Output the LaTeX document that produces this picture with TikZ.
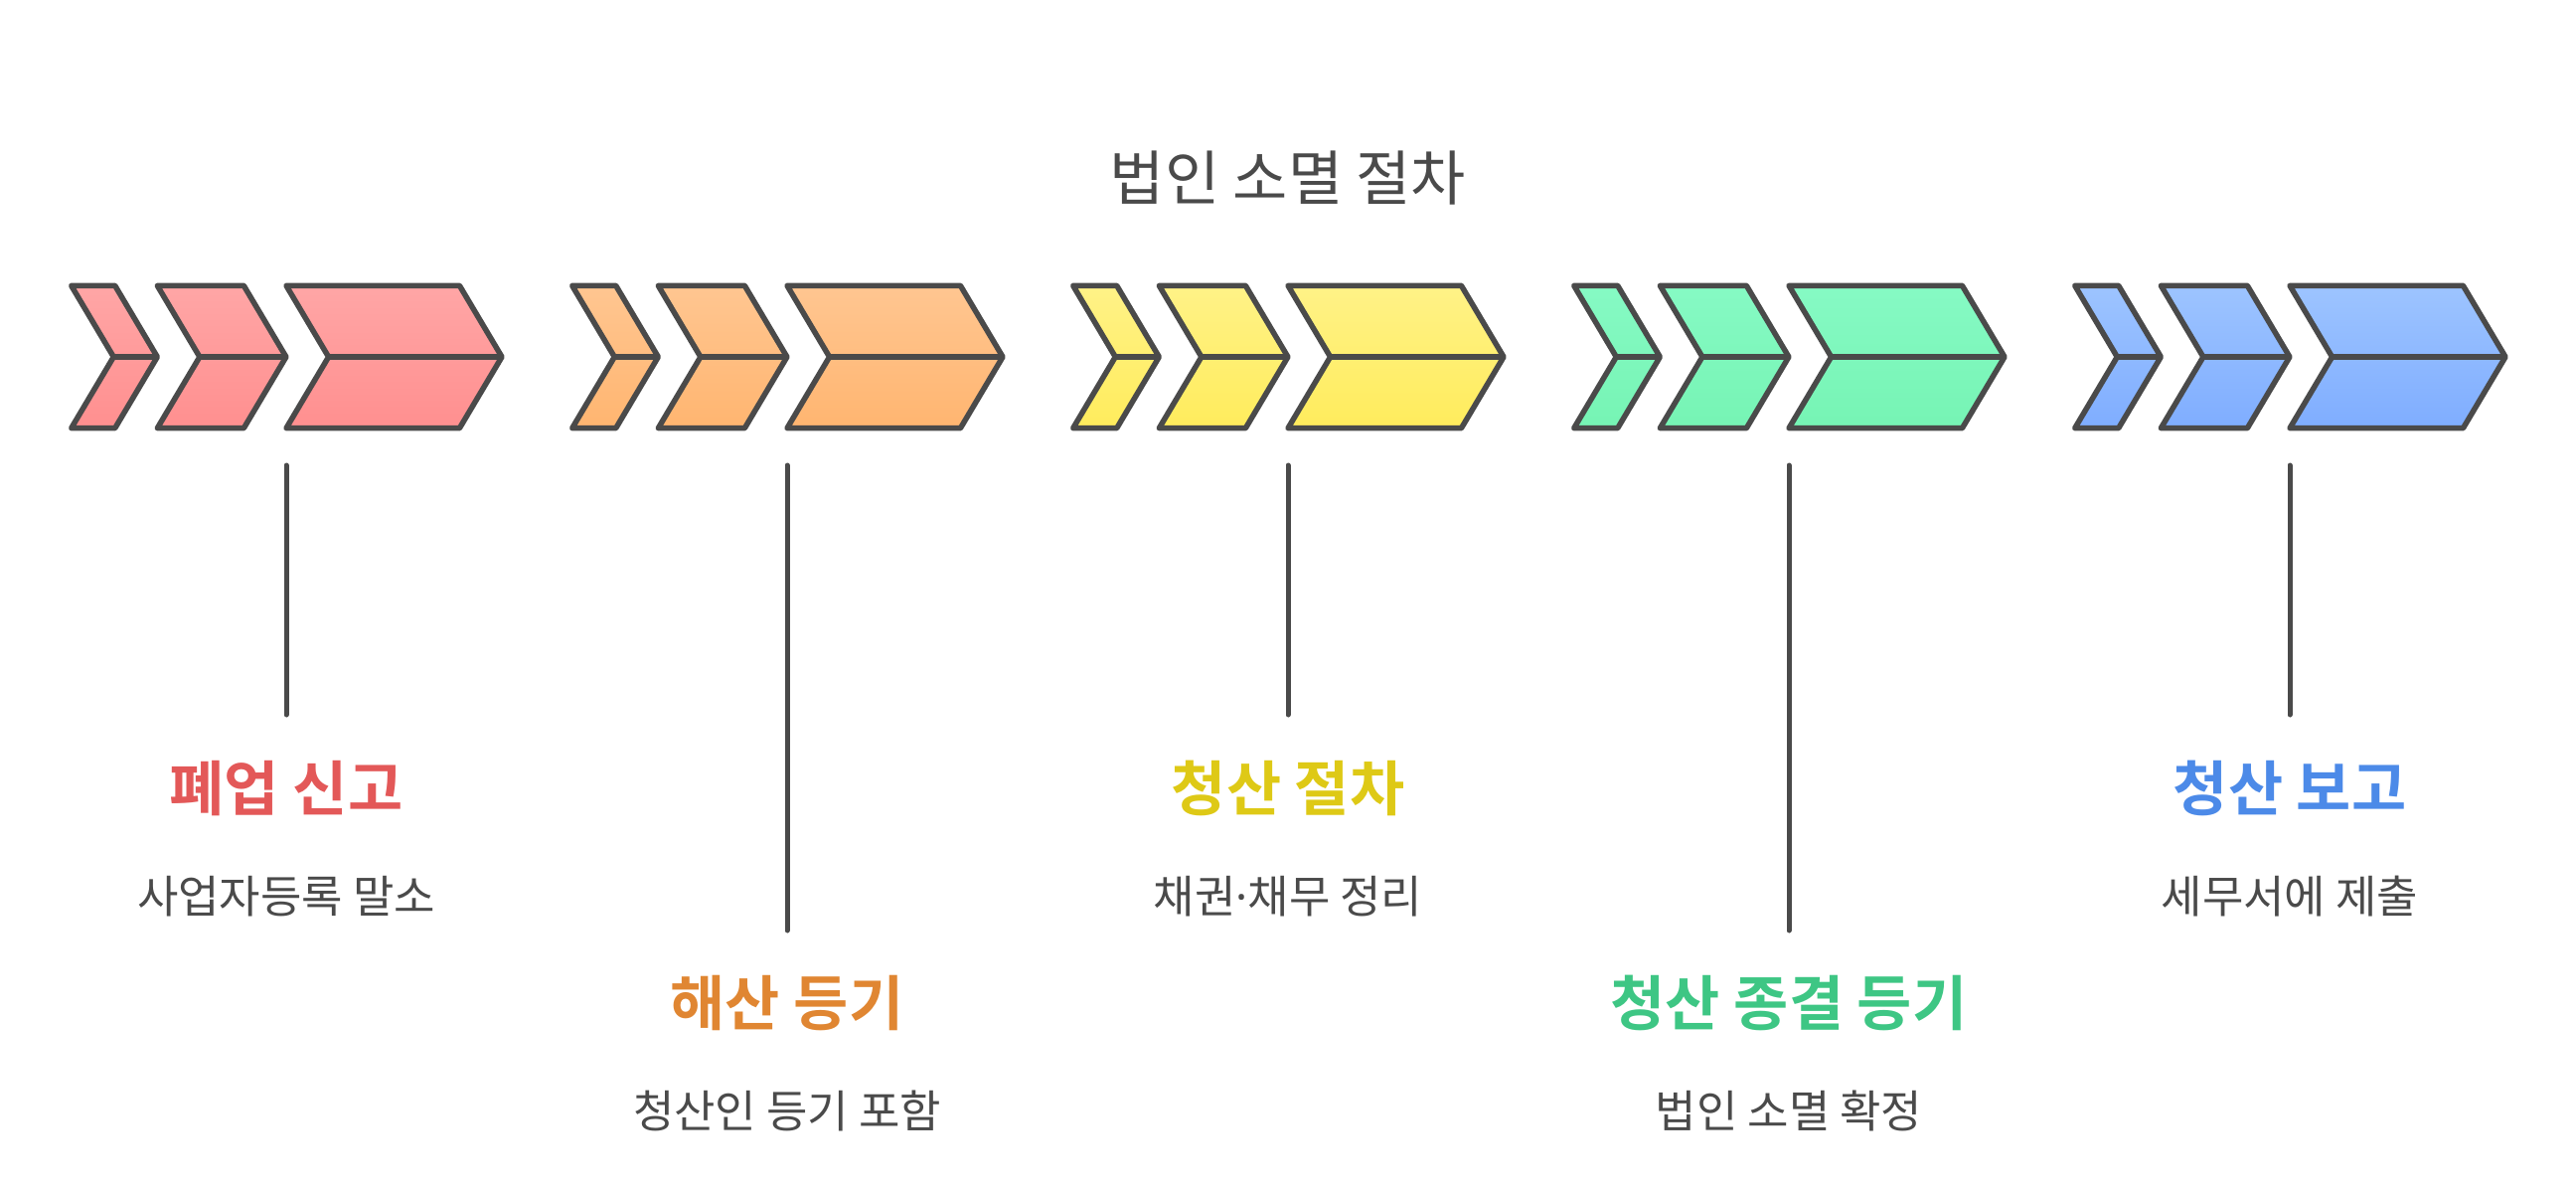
\documentclass[tikz,border=0pt]{standalone}
\usepackage{fontspec}
\setmainfont{Noto Sans CJK KR}[BoldFont={Noto Sans CJK KR Bold}]
\newfontfamily\latinsans{Noto Sans}
\definecolor{ink}{RGB}{74,74,74}
\definecolor{rT}{RGB}{255,166,166}\definecolor{rB}{RGB}{255,143,143}
\definecolor{oT}{RGB}{255,198,145}\definecolor{oB}{RGB}{255,181,112}
\definecolor{yT}{RGB}{255,242,135}\definecolor{yB}{RGB}{255,236,92}
\definecolor{gT}{RGB}{134,250,196}\definecolor{gB}{RGB}{118,244,180}
\definecolor{bT}{RGB}{157,196,255}\definecolor{bB}{RGB}{127,173,255}
\definecolor{rL}{RGB}{227,88,88}
\definecolor{oL}{RGB}{224,134,50}
\definecolor{yL}{RGB}{222,201,22}
\definecolor{gL}{RGB}{62,198,132}
\definecolor{bL}{RGB}{76,138,232}
\tikzset{
  chev/.style={draw=ink,line width=5.5pt,line join=round},
  conn/.style={draw=ink,line width=5pt,line cap=round},
  titletext/.style={font=\fontsize{60}{64}\selectfont,text=ink,anchor=base,inner sep=0pt},
  headtext/.style={font=\fontsize{60}{64}\selectfont\bfseries,anchor=base,inner sep=0pt},
  desctext/.style={font=\fontsize{45}{49}\selectfont,text=ink,anchor=base,inner sep=0pt}
}
% chevron: #1 = group x, #2 = offset a, #3 = width, #4 top color, #5 bottom color
\newcommand{\onechev}[5]{%
  \path[chev,top color=#4,bottom color=#5]
    ({#1+#2},287.3) -- ({#1+#2+#3},287.3) -- ({#1+#2+#3+42.6},359) -- ({#1+#2+#3},430.7)
    -- ({#1+#2},430.7) -- ({#1+#2+42.6},359) -- cycle;
  \draw[chev] ({#1+#2+42.6},359) -- ({#1+#2+#3+42.6},359);
}
\newcommand{\chevgroup}[3]{%
  \onechev{#1}{0}{44}{#2}{#3}
  \onechev{#1}{86.6}{87}{#2}{#3}
  \onechev{#1}{216.3}{174.4}{#2}{#3}
}
\begin{document}
\begin{tikzpicture}[x=1pt,y=-1pt]
\useasboundingbox (0,0) rectangle (2592,1195);
\node[titletext] (title) at (1296,201) {법인 소멸 절차};

\chevgroup{71.7}{rT}{rB}
\chevgroup{575.7}{oT}{oB}
\chevgroup{1079.7}{yT}{yB}
\chevgroup{1583.7}{gT}{gB}
\chevgroup{2087.7}{bT}{bB}

\coordinate (s1) at (288,468); \coordinate (e1) at (288,719);
\coordinate (s2) at (792,468); \coordinate (e2) at (792,936);
\coordinate (s3) at (1296,468); \coordinate (e3) at (1296,719);
\coordinate (s4) at (1800,468); \coordinate (e4) at (1800,936);
\coordinate (s5) at (2304,468); \coordinate (e5) at (2304,719);
\foreach \i in {1,...,5} {\draw[conn] (s\i) -- (e\i);}

\node[headtext,text=rL] (h1) at (288,815) {폐업 신고};
\node[desctext] (d1) at (288,918) {사업자등록 말소};
\node[headtext,text=oL] (h2) at (792,1031) {해산 등기};
\node[desctext] (d2) at (792,1134) {청산인 등기 포함};
\node[headtext,text=yL] (h3) at (1296,815) {청산 절차};
\node[desctext] (d3) at (1296,918) {채권{\latinsans ·}채무 정리};
\node[headtext,text=gL] (h4) at (1800,1031) {청산 종결 등기};
\node[desctext] (d4) at (1800,1134) {법인 소멸 확정};
\node[headtext,text=bL] (h5) at (2304,815) {청산 보고};
\node[desctext] (d5) at (2304,918) {세무서에 제출};
\end{tikzpicture}
\end{document}
